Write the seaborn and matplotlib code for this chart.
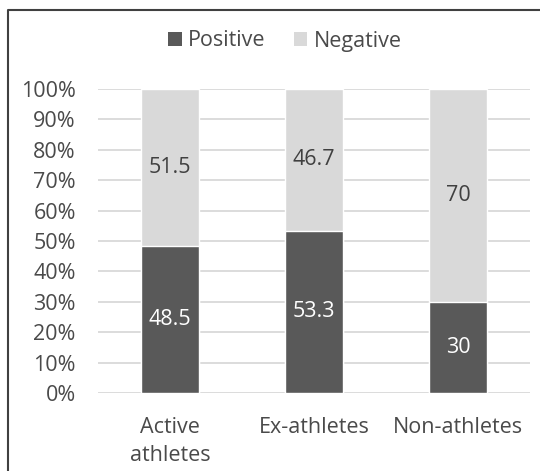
import matplotlib
matplotlib.use("Agg")
import matplotlib.pyplot as plt
from matplotlib.patches import Patch
from matplotlib.lines import Line2D
import seaborn as sns
import pandas as pd

categories = ["Active\nathletes", "Ex-athletes", "Non-athletes"]
positive = [48.5, 53.3, 30]
negative = [51.5, 46.7, 70]
yticks = [0, 10, 20, 30, 40, 50, 60, 70, 80, 90, 100]

DARK = "#595959"
LIGHT = "#d9d9d9"
TEXT = "#4a4a4a"
FS = 15.5

sns.set_theme(style="white")
plt.rcParams["font.family"] = ["Open Sans", "DejaVu Sans"]

df = pd.DataFrame({
    "group": categories,
    "positive": positive,
    "negative": negative,
})
df["total"] = df["positive"] + df["negative"]

fig = plt.figure(figsize=(5.4, 4.71), dpi=100)
ax = fig.add_axes([98 / 540, 78 / 471, 432 / 540, 304 / 471])

# gridlines behind bars
ax.set_axisbelow(True)
ax.yaxis.grid(True, color=LIGHT, linewidth=1.3)

# stacked bars: full-height negative segment, positive segment drawn on top
sns.barplot(data=df, x="group", y="total", color=LIGHT, width=0.4,
            saturation=1, ax=ax, zorder=2)
sns.barplot(data=df, x="group", y="positive", color=DARK, width=0.4,
            saturation=1, ax=ax, zorder=3)

for i, (p, n) in enumerate(zip(positive, negative)):
    ax.text(i, p / 2, f"{p:g}", ha="center", va="center", color="white",
            fontsize=FS, zorder=4)
    ax.text(i, p + n / 2, f"{n:g}", ha="center", va="center", color="#404040",
            fontsize=FS, zorder=4)

ax.set_ylim(0, 100)
ax.set_xlim(-0.5, 2.5)
ax.set_yticks(yticks)
ax.set_yticklabels([f"{v}%" for v in yticks])
ax.set_xlabel("")
ax.set_ylabel("")
ax.tick_params(axis="y", length=0, pad=16, labelsize=FS, labelcolor=TEXT)
ax.tick_params(axis="x", length=0, pad=17.5, labelsize=FS, labelcolor=TEXT)
for lab in ax.get_xticklabels():
    lab.set_linespacing(1.4)
for s in ax.spines.values():
    s.set_visible(False)

handles = [Patch(facecolor=DARK, edgecolor="none", label="Positive"),
           Patch(facecolor=LIGHT, edgecolor="none", label="Negative")]
fig.legend(handles=handles, loc="center", bbox_to_anchor=(285 / 540, 430 / 471),
           ncol=2, frameon=False, fontsize=FS, labelcolor=TEXT,
           handlelength=0.62, handleheight=0.62, handletextpad=0.3,
           columnspacing=1.3)

# chart-area frame (left and top edges)
y_top = 1 - 10 / 471
x_left = 8 / 540
fig.add_artist(Line2D([x_left, x_left, 1.0], [0.0, y_top, y_top],
                      transform=fig.transFigure, color="#404040", linewidth=1.5))

fig.savefig("out.png", dpi=100)
